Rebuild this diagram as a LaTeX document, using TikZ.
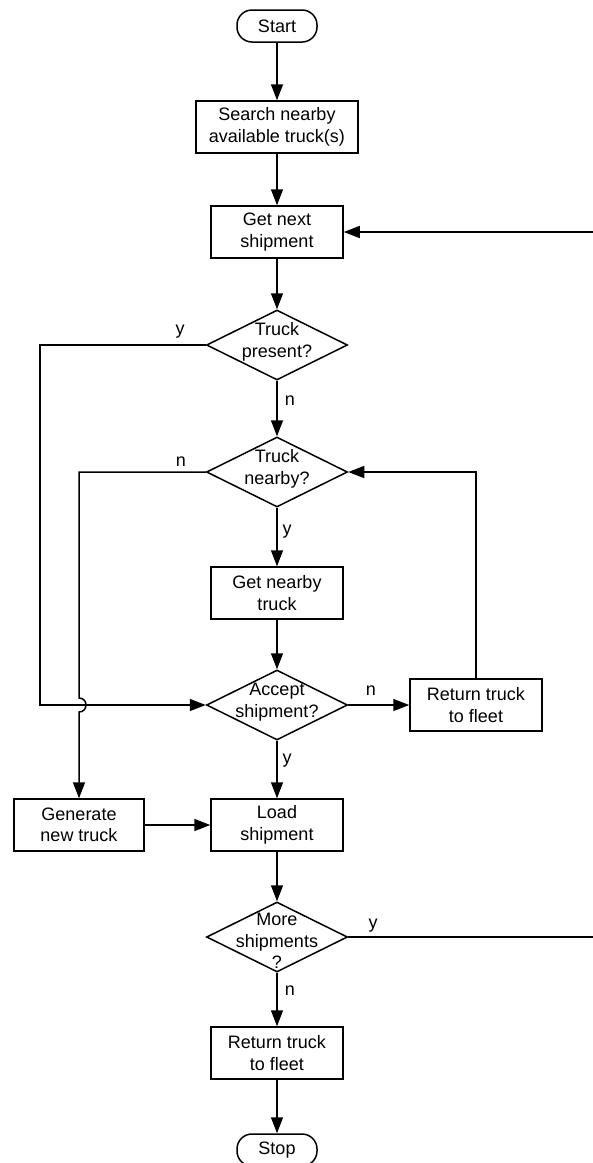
\documentclass[tikz,border=0pt]{standalone}
\usepackage{fontspec}
\setmainfont{Liberation Sans}
\usetikzlibrary{shapes.geometric,arrows.meta,calc}
\begin{document}
\begin{tikzpicture}[x=1pt,y=-1pt,
  every node/.style={font=\fontsize{18}{21.5}\selectfont},
  line/.style={line width=1.5pt},
  arr/.style={line, -{Triangle[length=16pt,width=12pt]}},
  proc/.style={draw, line width=1.5pt, rectangle, minimum width=132pt, minimum height=52pt, inner sep=0pt, align=center},
  term/.style={draw, line width=1.5pt, rectangle, rounded corners=15pt, minimum width=80pt, minimum height=32pt, inner sep=0pt},
  decision/.style={draw, line width=1.5pt, diamond, minimum width=141pt, minimum height=70pt, inner sep=0pt, aspect=2},
  lbl/.style={inner sep=0pt}]
\useasboundingbox (0,0) rectangle (593,1163);
\clip (0,0) rectangle (593,1163);
% nodes
\node[term] (start) at (277,26) {Start};
\node[proc, minimum width=162pt] (search) at (277,127) {Search nearby\\available truck(s)};
\node[proc] (next) at (277,232) {Get next\\shipment};
\node[decision] (tp) at (277,345) {};
\node[align=center] (tpt) at (277,342) {Truck\\present?};
\node[decision] (tn) at (277,472) {};
\node[align=center] (tnt) at (277,469) {Truck\\nearby?};
\node[proc] (gnt) at (277,593) {Get nearby\\truck};
\node[decision] (acc) at (277,705) {};
\node[align=center] (acct) at (277,702) {Accept\\shipment?};
\node[proc] (ret1) at (476,705) {Return truck\\to fleet};
\node[proc, minimum width=130pt] (gen) at (79,825) {Generate\\new truck};
\node[proc] (load) at (277,825) {Load\\shipment};
\node[decision] (more) at (277,937) {};
\node[align=center] (moret) at (277,941) {More\\shipments\\?};
\node[proc] (ret2) at (277,1053) {Return truck\\to fleet};
\node[term] (stop) at (277,1150) {Stop};
\coordinate (edgeA) at (610,232);
\coordinate (edgeB) at (610,937);
% connectors
\draw[arr] (start) -- (search);
\draw[arr] (search) -- (next);
\draw[arr] (next) -- (tp.north);
\draw[arr] (tp.south) -- (tn.north);
\draw[arr] (tn.south) -- (gnt);
\draw[arr] (gnt) -- (acc.north);
\draw[arr] (acc.south) -- (load);
\draw[arr] (load) -- (more.north);
\draw[arr] (more.south) -- (ret2);
\draw[arr] (ret2) -- (stop);
\draw[arr] (acc.east) -- (ret1.west);
\draw[arr] (ret1.north) |- (tn.east);
\draw[arr] (gen.east) -- (load.west);
\draw[arr] (tp.west) -- ($(tp.west -| 0,0)+(40,0)$) |- (acc.west);
\draw[arr] (tn.west) -- (tn.west -| gen.north) -- ($(acc.west -| gen.north)+(0,-7)$)
  .. controls ($(acc.west -| gen.north)+(9.3,-7)$) and ($(acc.west -| gen.north)+(9.3,7)$) .. ($(acc.west -| gen.north)+(0,7)$)
  -- (gen.north);
\draw[line] (more.east) -- (edgeB) -- (edgeA);
\draw[arr] (edgeA) -- (next.east);
% labels
\node[lbl] (ly1) at (180,332) {y};
\node[lbl] (ln1) at (290,401) {n};
\node[lbl] (ln2) at (181,462) {n};
\node[lbl] (ly2) at (287,532) {y};
\node[lbl] (ln3) at (371,691) {n};
\node[lbl] (ly3) at (287,761) {y};
\node[lbl] (ly4) at (373,926) {y};
\node[lbl] (ln4) at (290,991) {n};
\end{tikzpicture}
\end{document}
